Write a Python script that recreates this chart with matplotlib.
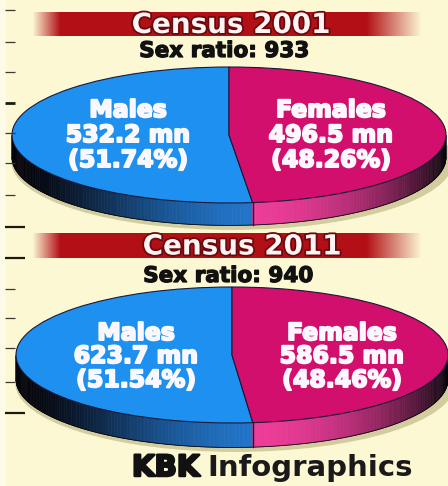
import numpy as np
import matplotlib
matplotlib.use("Agg")
import matplotlib.pyplot as plt
from matplotlib.collections import PolyCollection
from matplotlib.patches import Ellipse
import matplotlib.patheffects as pe
from matplotlib.colors import to_rgb

# ---------------- data ----------------
years = ["2001", "2011"]
categories = ["Males", "Females"]
males_mn = [532.2, 623.7]
females_mn = [496.5, 586.5]
credit = ["KBK", "Infographics"]

# ---------------- style ----------------
BG = "#fcf8d4"
BLUE = "#1e90f0"
MAGENTA = "#d20f6c"
BLUE_SIDE = "#2276cc"
MAG_SIDE = "#f03c9a"
DARK = "#05050c"
RED = "#b30f16"
EDGE = "#1a1838"

W, H = 448, 486
fig = plt.figure(figsize=(W / 100, H / 100), dpi=100)
fig.patch.set_facecolor(BG)
main = fig.add_axes([0, 0, 1, 1])
main.set_xlim(0, W)
main.set_ylim(H, 0)
main.axis("off")
main.set_facecolor(BG)

# left margin strip + ruler dashes
main.axvspan(0, 5, color="#fdfbe8", zorder=0)
short_dashes = [10, 42, 72, 133, 163, 195, 289, 318, 348, 382]
thick_dashes = [103]
long_dashes = [227, 258, 413]
main.hlines(short_dashes, 5, 15, color="#3a3a30", lw=0.9, zorder=1)
main.hlines(thick_dashes, 5, 15, color="#1a1a10", lw=2.0, zorder=1)
main.hlines(long_dashes, 5, 25, color="#1a1a10", lw=1.6, zorder=1)

layout = [
    dict(cx=229, cy=135, a=217, b=68, depth=0.33, banner=(12, 36), title_x=231,
         ratio_x=224, ratio_y=51, label_y=(110, 135, 160), mx=128, fx=331),
    dict(cx=232, cy=355, a=216, b=68, depth=0.36, banner=(233, 258), title_x=242,
         ratio_x=228, ratio_y=276, label_y=(333, 356, 380), mx=136, fx=342),
]


def banner(y0, y1):
    xs = np.linspace(0, W, 448)
    alpha = np.clip((xs - 32) / 28, 0, 1) * np.clip((422 - xs) / 55, 0, 1)
    img = np.zeros((1, len(xs), 4))
    img[..., :3] = to_rgb(RED)
    img[..., 3] = alpha
    main.imshow(img, extent=(0, W, y1, y0), aspect="auto", zorder=2,
                interpolation="bilinear")


def draw_pie(m, f, L):
    cx, cy, a, b, d = L["cx"], L["cy"], L["a"], L["b"], L["depth"]
    u0, u1, v0, v1 = -1.1, 1.1, -1.7, 1.1
    left = (cx + a * u0) / W
    right = (cx + a * u1) / W
    top = (cy - b * v1) / H
    bottom = (cy - b * v0) / H
    ax = fig.add_axes([left, 1 - bottom, right - left, bottom - top])
    ax.patch.set_alpha(0)

    wedges, _ = ax.pie([m, f], colors=[BLUE, MAGENTA], startangle=90,
                       counterclock=True, radius=1, center=(0, 0),
                       wedgeprops=dict(edgecolor=EDGE, linewidth=0.8))
    for w in wedges:
        w.set_zorder(3)
    ax.set_aspect("auto")
    ax.set_xlim(u0, u1)
    ax.set_ylim(v0, v1)
    ax.axis("off")

    split = 90 + 360 * m / (m + f)
    ts = np.sort(np.append(np.linspace(180, 360, 181), split))
    polys, cols = [], []
    dk = np.array(to_rgb(DARK))
    for t1, t2 in zip(ts[:-1], ts[1:]):
        if t2 - t1 < 1e-9:
            continue
        r1, r2 = np.radians([t1, t2])
        polys.append([(np.cos(r1), np.sin(r1)), (np.cos(r2), np.sin(r2)),
                      (np.cos(r2), np.sin(r2) - d), (np.cos(r1), np.sin(r1) - d)])
        tm = 0.5 * (t1 + t2)
        if tm < split:
            base = np.array(to_rgb(BLUE_SIDE))
            s = np.clip(np.cos(np.radians(tm - 282)), 0, 1) ** 2.6
        else:
            base = np.array(to_rgb(MAG_SIDE))
            s = np.clip(np.cos(np.radians(tm - 272)), 0, 1) ** 1.8
        cols.append(dk + (base - dk) * s)
    side = PolyCollection(polys, facecolors=cols, edgecolors=cols,
                          linewidths=0.4, zorder=2)
    ax.add_collection(side)

    shadow = Ellipse((0.015, -d - 0.055), 2.03, 2.0, color="#d3cc9e", zorder=1)
    ax.add_patch(shadow)

    tb = np.radians(np.linspace(180, 360, 200))
    ax.plot(np.cos(tb), np.sin(tb) - d, color=DARK, lw=0.6, zorder=2.5)
    rs = np.radians(split)
    ax.plot([np.cos(rs), np.cos(rs)], [np.sin(rs), np.sin(rs) - d],
            color=EDGE, lw=1.0, zorder=2.5)
    return ax


white_fx = [pe.withStroke(linewidth=1.4, foreground="white")]

for yr, m, f, L in zip(years, males_mn, females_mn, layout):
    y0, y1 = L["banner"]
    banner(y0, y1)
    main.text(L["title_x"], (y0 + y1) / 2 + 1, f"Census {yr}", ha="center",
              va="center", fontsize=20, fontweight="bold", color="#fff4f4",
              zorder=4,
              path_effects=[pe.withStroke(linewidth=2.6, foreground="#6a0a0e")])
    ratio = round(f / m * 1000)
    main.text(L["ratio_x"], L["ratio_y"], f"Sex ratio: {ratio}", ha="center",
              va="center", fontsize=15.5, fontweight="bold", color="#111111",
              zorder=4,
              path_effects=[pe.withStroke(linewidth=0.9, foreground="#111111")])

    draw_pie(m, f, L)

    tot = m + f
    for x, name, v in [(L["mx"], categories[0], m), (L["fx"], categories[1], f)]:
        lines = [name, f"{v:.1f} mn", f"({v / tot * 100:.2f}%)"]
        for yy, s in zip(L["label_y"], lines):
            main.text(x, yy, s, ha="center", va="center", fontsize=17,
                      fontweight="bold", color="#fbf6ff", zorder=6,
                      path_effects=white_fx)

# bring main-axes texts above pie axes
main.set_zorder(5)
main.patch.set_alpha(0)

kbk = main.text(132, 468, credit[0], ha="left", va="center", fontsize=21,
                fontweight="bold", color="#111111",
                path_effects=[pe.withStroke(linewidth=1.8, foreground="#111111")])
main.annotate(credit[1], xy=(1, 0.5), xycoords=kbk, xytext=(6, 0),
              textcoords="offset points", ha="left", va="center", fontsize=21,
              fontweight="bold", color="#1a1a1a")

fig.savefig("out.png", dpi=100, facecolor=BG)
